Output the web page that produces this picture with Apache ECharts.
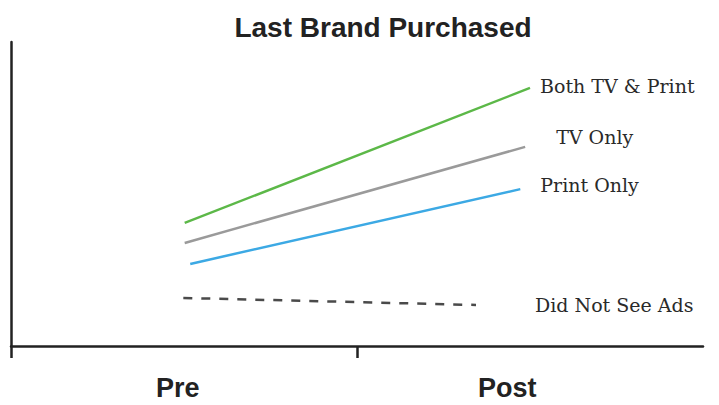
<!DOCTYPE html>
<html>
<head>
<meta charset="utf-8">
<script src="https://cdn.jsdelivr.net/npm/echarts@6/dist/echarts.min.js"></script>
<style>
  html, body { margin: 0; padding: 0; background: #fff; }
  #chart { width: 719px; height: 405px; }
</style>
</head>
<body>
<div id="chart"></div>
<script>
// x positions on a 0-100 scale (Pre near 25, Post near 72), y on an unlabelled 0-100 scale
var periodLabels = ['Pre', 'Post'];
var periodLabelAt = [24.1, 71.7];
var midTick = [0, 50.1];

var seriesNames = ['Both TV & Print', 'TV Only', 'Print Only', 'Did Not See Ads'];
var bothTvPrint = [[25.1, 40.5], [75.0, 84.9]];
var tvOnly = [[25.1, 33.9], [74.3, 65.5]];
var printOnly = [[25.9, 27.0], [73.6, 51.6]];
var noAds = [[24.9, 15.8], [67.2, 13.5]];

var ink = '#222';
var labelFont = 'DejaVu Serif, serif';

function lineSeries(name, data, color, type, offset) {
  return {
    name: name,
    type: 'line',
    data: data,
    symbol: 'none',
    lineStyle: { color: color, width: 2.5, type: type },
    endLabel: {
      show: true,
      formatter: name,
      distance: 0,
      offset: offset,
      color: '#2a2a2a',
      fontFamily: labelFont,
      fontSize: 19
    }
  };
}

var chart = echarts.init(document.getElementById('chart'), null, { renderer: 'svg' });
chart.setOption({
  animation: false,
  title: {
    text: 'Last Brand Purchased',
    left: 378,
    textAlign: 'center',
    top: 8,
    textStyle: { color: ink, fontSize: 28, fontWeight: 'bold', fontFamily: 'Liberation Sans, Arial, sans-serif' }
  },
  grid: { left: 11, right: 16, top: 42, bottom: 59 },
  xAxis: {
    type: 'value',
    min: 0,
    max: 100,
    splitLine: { show: false },
    axisLine: { show: true, lineStyle: { color: ink, width: 2.5 } },
    axisTick: { show: true, customValues: midTick, length: 12, inside: false, lineStyle: { color: ink, width: 2.5 } },
    axisLabel: {
      customValues: periodLabelAt,
      formatter: function (v) {
        var i = periodLabelAt.indexOf(v);
        return i >= 0 ? periodLabels[i] : '';
      },
      margin: 28,
      color: ink,
      fontSize: 27,
      fontWeight: 'bold',
      fontFamily: 'Liberation Sans, Arial, sans-serif'
    }
  },
  yAxis: {
    type: 'value',
    min: 0,
    max: 100,
    splitLine: { show: false },
    axisLine: { show: true, lineStyle: { color: ink, width: 2.5 } },
    axisTick: { show: false },
    axisLabel: { show: false }
  },
  series: [
    lineSeries(seriesNames[0], bothTvPrint, '#5cb848', 'solid', [10, -2]),
    lineSeries(seriesNames[1], tvOnly, '#9a9a9a', 'solid', [31, -10]),
    lineSeries(seriesNames[2], printOnly, '#3ca9e4', 'solid', [20, -4]),
    lineSeries(seriesNames[3], noAds, '#4a4a4a', [9, 9], [59, 0])
  ]
});
</script>
</body>
</html>
